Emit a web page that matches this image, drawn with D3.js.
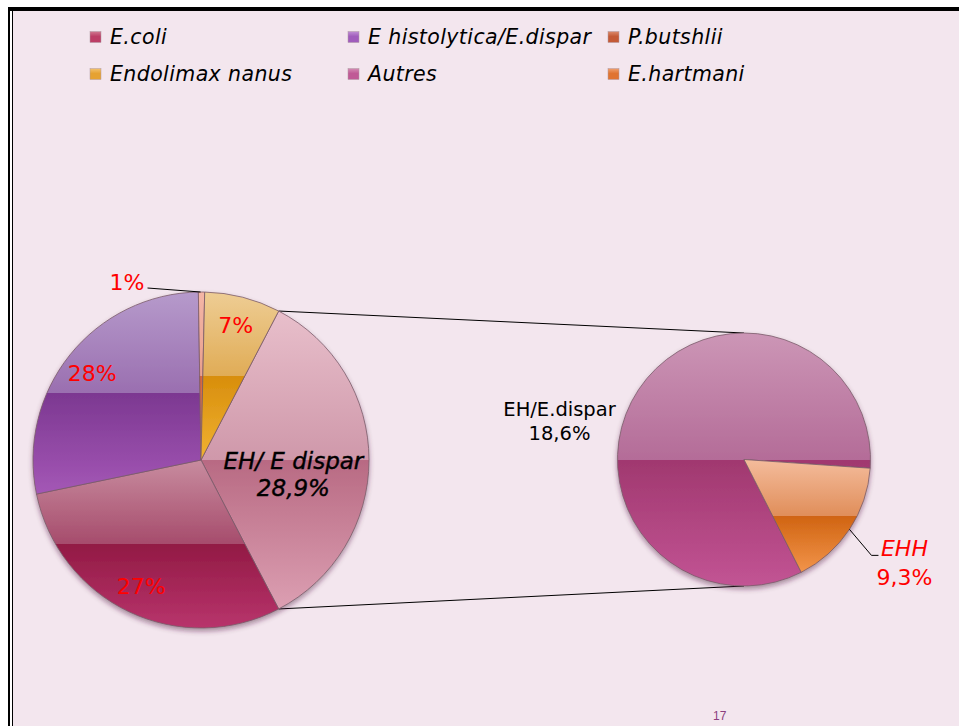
<!DOCTYPE html>
<html lang="fr">
<head>
<meta charset="UTF-8">
<title>Parasites - secteurs</title>
<script src="https://d3js.org/d3.v7.min.js"></script>
<style>
  body { margin: 0; background: #fff; }
  text { font-family: "DejaVu Sans", Verdana, sans-serif; }
  .legend text { font-size: 20.5px; font-style: italic; fill: #000; letter-spacing: 0.4px; }
  .pct { fill: #ff0000; font-size: 22px; }
  .leader, .connector { stroke: #000; stroke-width: 1; fill: none; }
  .slice { stroke: #7a5a6a; stroke-width: 0.8; }
</style>
</head>
<body>
<script>
// data (share of the circle, %)
var categories = ["E.coli", "E histolytica/E.dispar", "P.butshlii", "Endolimax nanus", "Autres", "E.hartmani"];
var values = [29.4, 28.0, 0.6, 7.3, 29.0, 5.7];
var secondPieCats = ["Autres", "E.hartmani"];

// label texts as written on the slide
var mainLabels = ["27%", "28%", "1%", "7%"];
var otherLabel = ["EH/ E dispar", "28,9%"];
var secondLabels = [["EH/E.dispar", "18,6%"], ["EHH", "9,3%"]];
var pageNumber = "17";

// gradient stops: top, middle (light), middle (dark), bottom
var palette = {
  "E.coli": ["#c88c9f", "#a64c6c", "#921a44", "#b8346c"],
  "E histolytica/E.dispar": ["#b69acb", "#9a6fb0", "#7c3891", "#a457b6"],
  "P.butshlii": ["#f4b6a6", "#e9a08e", "#d4643e", "#e68e66"],
  "Endolimax nanus": ["#eecd94", "#e0ac56", "#d88e0c", "#f0b232"],
  "Autres": ["#cc96b6", "#b46c98", "#a0386f", "#c25494"],
  "E.hartmani": ["#f4bc9c", "#e08e5a", "#d06412", "#f2944a"],
  "other": ["#e8bfcb", "#cf98aa", "#b86a83", "#dc9fb2"]
};
// legend keys: lighter top, base colour below
var keyColors = {
  "E.coli": ["#d07890", "#bc3e66"],
  "E histolytica/E.dispar": ["#c08ed4", "#a05cbc"],
  "P.butshlii": ["#dc8a6c", "#c45a36"],
  "Endolimax nanus": ["#f2c270", "#e6a232"],
  "Autres": ["#d48cb4", "#c05a96"],
  "E.hartmani": ["#f0a070", "#e07432"]
};

var width = 959, height = 726;
var svg = d3.select("body").append("svg")
  .attr("width", width)
  .attr("height", height);

var defs = svg.append("defs");
Object.keys(palette).forEach(function(k, i) {
  var g = defs.append("linearGradient")
    .attr("id", "grad" + i)
    .attr("x1", 0).attr("y1", 0).attr("x2", 0).attr("y2", 1);
  [0, 0.5, 0.5, 1].forEach(function(o, j) {
    g.append("stop").attr("offset", o).attr("stop-color", palette[k][j]);
  });
  palette[k].id = "url(#grad" + i + ")";
});
Object.keys(keyColors).forEach(function(k, i) {
  var g = defs.append("linearGradient")
    .attr("id", "key" + i)
    .attr("x1", 0).attr("y1", 0).attr("x2", 0).attr("y2", 1);
  g.append("stop").attr("offset", 0).attr("stop-color", keyColors[k][0]);
  g.append("stop").attr("offset", 0.45).attr("stop-color", keyColors[k][1]);
  g.append("stop").attr("offset", 1).attr("stop-color", keyColors[k][1]);
  keyColors[k].id = "url(#key" + i + ")";
});
var shadow = defs.append("filter").attr("id", "shadow")
  .attr("x", "-10%").attr("y", "-10%").attr("width", "120%").attr("height", "125%");
shadow.append("feDropShadow")
  .attr("dx", 0).attr("dy", 3).attr("stdDeviation", 2.5)
  .attr("flood-color", "#4a1a3a").attr("flood-opacity", 0.45);

// slide frame
svg.append("rect").attr("x", 13).attr("y", 11).attr("width", width - 13).attr("height", height - 11).attr("fill", "#f3e6ee");
svg.append("rect").attr("x", 8).attr("y", 7).attr("width", width - 8).attr("height", 4).attr("fill", "#000");
svg.append("rect").attr("x", 8).attr("y", 7).attr("width", 2).attr("height", height - 7).attr("fill", "#000");
svg.append("rect").attr("x", 12).attr("y", 10).attr("width", 1).attr("height", height - 10).attr("fill", "#000");

// legend, 3 columns
var legendX = [90, 348, 608];
var legendY = d3.scalePoint().domain([0, 1]).range([37, 74]);
var legend = svg.append("g").attr("class", "legend")
  .selectAll("g").data(categories).enter().append("g")
  .attr("transform", function(d, i) {
    return "translate(" + legendX[i % 3] + "," + legendY(Math.floor(i / 3)) + ")";
  });
legend.append("rect")
  .attr("x", 0).attr("y", -5.5).attr("width", 11).attr("height", 11)
  .attr("fill", function(d) { return keyColors[d].id; })
  .attr("stroke", "#b09aa4").attr("stroke-width", 0.5);
legend.append("text")
  .attr("x", 20).attr("y", 7)
  .text(function(d) { return d; });

// split data into main pie and second pie
var items = categories.map(function(c, i) { return { name: c, value: values[i] }; });
var secondItems = items.filter(function(d) { return secondPieCats.indexOf(d.name) >= 0; });
var mainItems = items.filter(function(d) { return secondPieCats.indexOf(d.name) < 0; });
var otherValue = d3.sum(secondItems, function(d) { return d.value; });
var total = d3.sum(items, function(d) { return d.value; });
mainItems.unshift({ name: "other", value: otherValue });

var cx1 = 201, cy1 = 460, r1 = 168;
var cx2 = 744, cy2 = 459.5, r2 = 126.5;

var otherAngle = otherValue / total * 2 * Math.PI;
var start1 = Math.PI / 2 - otherAngle / 2;
var pie1 = d3.pie().sort(null).value(function(d) { return d.value; })
  .startAngle(start1).endAngle(start1 + 2 * Math.PI);
var start2 = 2.672;
var pie2 = d3.pie().sort(null).value(function(d) { return d.value; })
  .startAngle(start2).endAngle(start2 + 2 * Math.PI);

var arc1 = d3.arc().innerRadius(0).outerRadius(r1);
var arc2 = d3.arc().innerRadius(0).outerRadius(r2);

var arcs1 = pie1(mainItems);
var arcs2 = pie2(secondItems);

function onCircle(cx, cy, r, a) {
  return [cx + r * Math.sin(a), cy - r * Math.cos(a)];
}

// connector lines between the two pies
var otherArc = arcs1[0];
var p0 = onCircle(cx1, cy1, r1, otherArc.startAngle);
var p1 = onCircle(cx1, cy1, r1, otherArc.endAngle);
svg.append("line").attr("class", "connector")
  .attr("x1", p0[0]).attr("y1", p0[1]).attr("x2", cx2).attr("y2", cy2 - r2);
svg.append("line").attr("class", "connector")
  .attr("x1", p1[0]).attr("y1", p1[1]).attr("x2", cx2).attr("y2", cy2 + r2);

var g1 = svg.append("g").attr("transform", "translate(" + cx1 + "," + cy1 + ")")
  .attr("filter", "url(#shadow)");
g1.selectAll("path").data(arcs1).enter().append("path")
  .attr("class", "slice")
  .attr("d", arc1)
  .attr("fill", function(d) { return palette[d.data.name].id; });

var g2 = svg.append("g").attr("transform", "translate(" + cx2 + "," + cy2 + ")")
  .attr("filter", "url(#shadow)");
g2.selectAll("path").data(arcs2).enter().append("path")
  .attr("class", "slice")
  .attr("d", arc2)
  .attr("fill", function(d) { return palette[d.data.name].id; });

// labels on the main pie
var labelArc = d3.arc().innerRadius(r1 * 0.83).outerRadius(r1 * 0.83);
arcs1.slice(1).forEach(function(d, i) {
  var txt = mainLabels[i];
  if (d.endAngle - d.startAngle < 0.1) {
    // tiny slice: label outside with a leader line
    var p = onCircle(cx1, cy1, r1, (d.startAngle + d.endAngle) / 2);
    svg.append("line").attr("class", "leader")
      .attr("x1", p[0] - 54).attr("y1", p[1] - 4).attr("x2", p[0] - 1).attr("y2", p[1]);
    svg.append("text").attr("class", "pct")
      .attr("x", p[0] - 57).attr("y", p[1] - 2)
      .attr("text-anchor", "end").text(txt);
    return;
  }
  var c = labelArc.centroid(d);
  svg.append("text").attr("class", "pct")
    .attr("x", cx1 + c[0]).attr("y", cy1 + c[1])
    .attr("dy", "0.35em").attr("text-anchor", "middle").text(txt);
});

var oc = d3.arc().innerRadius(r1 * 0.55).outerRadius(r1 * 0.55).centroid(otherArc);
var ot = svg.append("text")
  .attr("text-anchor", "middle")
  .attr("stroke", "#000").attr("stroke-width", 0.4)
  .style("font-size", "23px").style("font-style", "italic");
ot.append("tspan").attr("x", cx1 + oc[0]).attr("y", cy1 + oc[1] + 9).text(otherLabel[0]);
ot.append("tspan").attr("x", cx1 + oc[0]).attr("y", cy1 + oc[1] + 36).text(otherLabel[1]);

// labels on the second pie
var st = svg.append("text").attr("text-anchor", "middle").style("font-size", "19.5px");
st.append("tspan").attr("x", cx2 - r2 - 58).attr("y", cy2 - 43.5).text(secondLabels[0][0]);
st.append("tspan").attr("x", cx2 - r2 - 58).attr("y", cy2 - 19.5).text(secondLabels[0][1]);

var eh = arcs2[1];
var pe = onCircle(cx2, cy2, r2, (eh.startAngle + eh.endAngle) / 2);
svg.append("polyline").attr("class", "leader")
  .attr("points", [pe, [pe[0] + 22, pe[1] + 26], [pe[0] + 29, pe[1] + 26]].join(" "));
var et = svg.append("text").attr("class", "pct").attr("text-anchor", "middle");
et.append("tspan").attr("x", pe[0] + 55).attr("y", pe[1] + 27)
  .style("font-style", "italic").text(secondLabels[1][0]);
et.append("tspan").attr("x", pe[0] + 55).attr("y", pe[1] + 55.5).text(secondLabels[1][1]);

svg.append("text")
  .attr("x", 713).attr("y", 720)
  .style("font-family", "'Liberation Sans', Arial, sans-serif")
  .style("font-size", "12px").attr("fill", "#8b3e7e")
  .text(pageNumber);
</script>
</body>
</html>
